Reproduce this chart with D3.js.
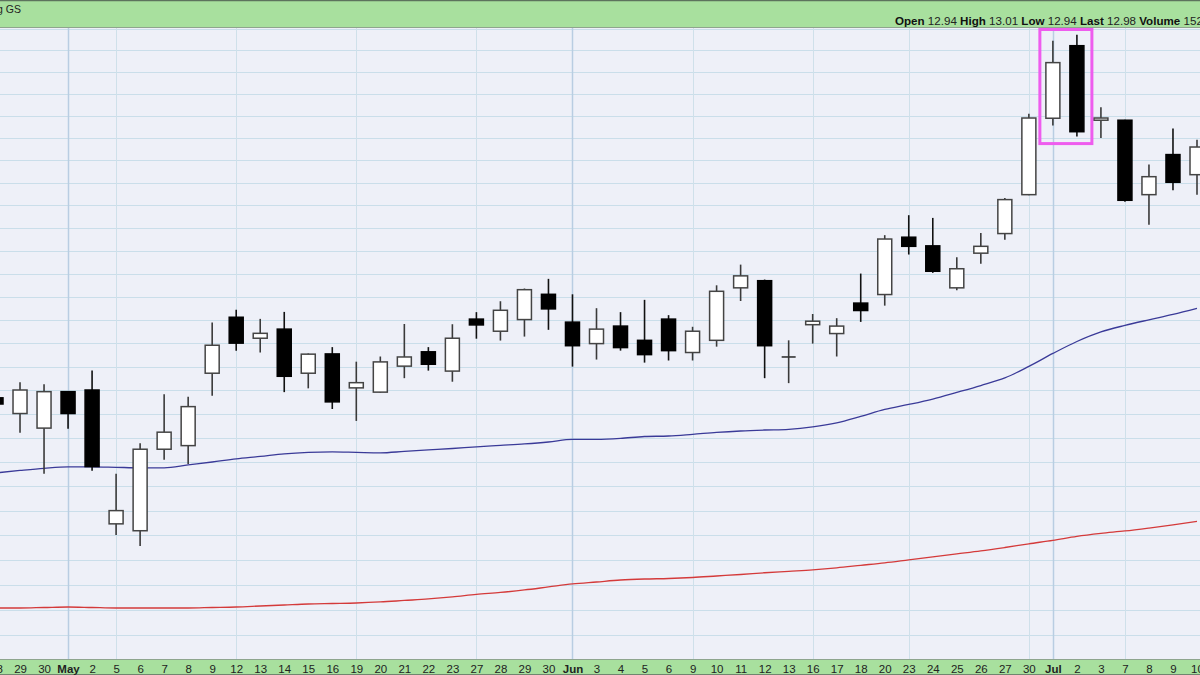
<!DOCTYPE html>
<html><head><meta charset="utf-8">
<script src="https://cdn.jsdelivr.net/npm/d3@7"></script>
<style>body{margin:0;background:#fff;} svg{display:block;font-family:"Liberation Sans",Arial,sans-serif;}</style>
</head><body><svg id="c" width="1200" height="675"></svg>
<script>
// ---- data ----
const dates = ["2025-04-28","2025-04-29","2025-04-30","2025-05-01","2025-05-02",
  "2025-05-05","2025-05-06","2025-05-07","2025-05-08","2025-05-09",
  "2025-05-12","2025-05-13","2025-05-14","2025-05-15","2025-05-16",
  "2025-05-19","2025-05-20","2025-05-21","2025-05-22","2025-05-23",
  "2025-05-27","2025-05-28","2025-05-29","2025-05-30",
  "2025-06-02","2025-06-03","2025-06-04","2025-06-05","2025-06-06",
  "2025-06-09","2025-06-10","2025-06-11","2025-06-12","2025-06-13",
  "2025-06-16","2025-06-17","2025-06-18","2025-06-20",
  "2025-06-23","2025-06-24","2025-06-25","2025-06-26","2025-06-27",
  "2025-06-30","2025-07-01","2025-07-02","2025-07-03",
  "2025-07-07","2025-07-08","2025-07-09","2025-07-10"];
const open  = [15.968,15.902,15.841,15.994,16.001,15.446,15.418,15.753,15.768,16.072,
  16.311,16.221,16.260,16.072,16.154,16.010,15.992,16.102,16.163,16.081,
  16.303,16.251,16.301,16.410,16.290,16.198,16.273,16.212,16.303,16.160,
  16.212,16.438,16.469,16.141,16.279,16.241,16.372,16.409,16.659,16.621,
  16.438,16.589,16.675,16.847,17.190,17.522,17.181,17.181,16.847,17.026,16.936];
const high  = [15.976,16.034,16.025,15.997,16.083,15.651,15.778,15.983,15.973,16.288,
  16.343,16.304,16.334,16.156,16.183,16.121,16.143,16.282,16.183,16.281,
  16.333,16.380,16.435,16.477,16.410,16.350,16.333,16.386,16.320,16.270,
  16.449,16.539,16.474,16.212,16.325,16.307,16.500,16.668,16.756,16.744,
  16.571,16.678,16.832,17.210,17.545,17.573,17.240,17.183,16.981,17.143,17.093];
const low   = [15.934,15.822,15.651,15.838,15.664,15.401,15.356,15.709,15.692,15.977,
  16.168,16.160,15.992,16.008,15.921,15.871,15.990,16.051,16.083,16.036,
  16.219,16.211,16.228,16.257,16.100,16.130,16.168,16.117,16.126,16.126,
  16.185,16.381,16.051,16.030,16.198,16.143,16.291,16.361,16.583,16.503,
  16.428,16.543,16.648,16.844,17.157,17.107,17.101,16.815,16.714,16.867,16.847];
const close = [15.942,16.001,15.994,15.902,15.681,15.500,15.753,15.824,15.931,16.191,
  16.200,16.242,16.059,16.153,15.951,16.032,16.120,16.141,16.110,16.221,
  16.278,16.341,16.430,16.347,16.189,16.260,16.181,16.151,16.168,16.251,
  16.423,16.490,16.189,16.141,16.294,16.273,16.340,16.651,16.619,16.510,
  16.521,16.619,16.825,17.191,17.444,17.129,17.191,16.822,16.927,16.902,17.060];
const sma50 = [15.655,15.665,15.674,15.680,15.680,15.678,15.676,15.676,15.688,15.700,
  15.713,15.723,15.734,15.740,15.742,15.740,15.738,15.744,15.750,15.756,
  15.763,15.769,15.775,15.783,15.794,15.794,15.798,15.806,15.808,15.815,
  15.823,15.829,15.833,15.836,15.846,15.863,15.890,15.919,15.940,15.963,
  15.991,16.020,16.052,16.101,16.156,16.207,16.248,16.276,16.300,16.323,16.349];
const sma200 = [15.107,15.107,15.109,15.111,15.109,15.107,15.107,15.107,15.107,15.109,
  15.111,15.115,15.119,15.123,15.125,15.127,15.131,15.137,15.143,15.151,
  15.161,15.169,15.179,15.191,15.203,15.211,15.219,15.223,15.225,15.229,
  15.235,15.241,15.248,15.254,15.260,15.268,15.278,15.288,15.300,15.312,
  15.324,15.336,15.350,15.365,15.379,15.395,15.407,15.417,15.429,15.442,15.456];
const headerTitle = "g GS";
const quoteLabels = ["Open","High","Low","Last","Volume"];
const quoteValues = ["12.94","13.01","12.94","12.98","152.5M"];
const highlightDates = ["2025-07-01","2025-07-02"];

// ---- layout ----
const W = 1200, H = 675;
const plotTop = 28, plotBottom = 659;
const svg = d3.select("#c");
const parse = d3.timeParse("%Y-%m-%d");
const pd = dates.map(parse);

const x = d3.scalePoint().domain(dates).range([-4, 1197]);
const y = d3.scaleLog().domain([14.913, 17.604]).range([657, plotTop]);

svg.append("defs").append("clipPath").attr("id","plot")
  .append("rect").attr("x",0).attr("y",plotTop).attr("width",W).attr("height",plotBottom-plotTop);

svg.append("rect").attr("x",0).attr("y",plotTop).attr("width",W).attr("height",plotBottom-plotTop).attr("fill","#eef0f8");

const g = svg.append("g").attr("clip-path","url(#plot)");

// horizontal grid
const hTicks = d3.range(149, 177).map(d => d/10);
g.selectAll("line.h").data(hTicks).join("line")
  .attr("x1",0).attr("x2",W)
  .attr("y1",d=>Math.round(y(d))+0.5).attr("y2",d=>Math.round(y(d))+0.5)
  .attr("stroke","#cadeea").attr("stroke-width",1);

// vertical grid: first trading day of each week / month
const vIdx = [];
pd.forEach((d,i)=>{
  if(i===0) return;
  const p = pd[i-1];
  const newWeek = d.getDay() < p.getDay() || (d - p) > 4*864e5;
  const newMonth = d.getMonth() !== p.getMonth();
  if(newWeek || newMonth) vIdx.push({i, month:newMonth});
});
g.selectAll("line.v").data(vIdx).join("line")
  .attr("x1",d=>Math.round(x(dates[d.i]))+0.5).attr("x2",d=>Math.round(x(dates[d.i]))+0.5)
  .attr("y1",plotTop).attr("y2",plotBottom)
  .attr("stroke",d=>d.month?"#b9cde2":"#cfe0ea").attr("stroke-width",d=>d.month?1.5:1);

// moving averages
const line = d3.line().x((d,i)=>x(dates[i])).y(d=>y(d)).curve(d3.curveMonotoneX);
g.append("path").attr("d",line(sma200)).attr("fill","none").attr("stroke","#d43a3a").attr("stroke-width",1.3);
g.append("path").attr("d",line(sma50)).attr("fill","none").attr("stroke","#3a3a98").attr("stroke-width",1.3);

// candles
const bw = 14;
const candles = dates.map((d,i)=>({d, o:open[i], h:high[i], l:low[i], c:close[i]}));
const cg = g.selectAll("g.candle").data(candles).join("g");
cg.append("line")
  .attr("x1",d=>x(d.d)).attr("x2",d=>x(d.d))
  .attr("y1",d=>y(d.h)).attr("y2",d=>y(d.l))
  .attr("stroke",d=>d.c<d.o?"#111":"#3a3a3a").attr("stroke-width",1.6);
cg.filter(d=>d.c!==d.o).append("rect")
  .attr("x",d=>x(d.d)-bw/2).attr("width",bw)
  .attr("y",d=>y(Math.max(d.o,d.c)))
  .attr("height",d=>Math.max(1,y(Math.min(d.o,d.c))-y(Math.max(d.o,d.c))))
  .attr("fill",d=>d.c<d.o?"#000":"#fff")
  .attr("stroke",d=>d.c<d.o?"#000":"#444").attr("stroke-width",1.5);
cg.filter(d=>d.c===d.o).append("line")
  .attr("x1",d=>x(d.d)-bw/2).attr("x2",d=>x(d.d)+bw/2)
  .attr("y1",d=>y(d.o)).attr("y2",d=>y(d.o))
  .attr("stroke","#333").attr("stroke-width",1.6);

// highlight box
const hl = candles.filter(c=>highlightDates.includes(c.d));
const hx0 = x(highlightDates[0]) - 13, hx1 = x(highlightDates[highlightDates.length-1]) + 15;
const hyB = y(d3.min(hl, c=>c.l)) + 7;
svg.append("rect").attr("x",hx0).attr("y",plotTop+1.5).attr("width",hx1-hx0).attr("height",hyB-plotTop-1.5)
  .attr("fill","none").attr("stroke","#ee5cee").attr("stroke-width",3);

// header bar
svg.append("rect").attr("x",0).attr("y",0).attr("width",W).attr("height",plotTop).attr("fill","#a8e09e");
svg.append("line").attr("x1",0).attr("x2",W).attr("y1",0.5).attr("y2",0.5).attr("stroke","#5d735d").attr("stroke-width",1.5);
svg.append("line").attr("x1",0).attr("x2",W).attr("y1",plotTop-0.5).attr("y2",plotTop-0.5).attr("stroke","#8ea58e").attr("stroke-width",1.2);
svg.append("text").attr("x",-3).attr("y",13).attr("font-size",10.5).attr("fill","#222").text(headerTitle);
const qt = svg.append("text").attr("x",895).attr("y",25).attr("font-size",11.6).attr("fill","#111");
quoteLabels.forEach((lab,i)=>{
  qt.append("tspan").attr("font-weight","bold").text((i?" ":"")+lab+" ");
  qt.append("tspan").attr("fill","#222").text(quoteValues[i]);
});

// bottom axis bar
svg.append("rect").attr("x",0).attr("y",plotBottom).attr("width",W).attr("height",H-plotBottom).attr("fill","#a8e09e");
svg.append("line").attr("x1",0).attr("x2",W).attr("y1",plotBottom+0.5).attr("y2",plotBottom+0.5).attr("stroke","#8ea58e").attr("stroke-width",1.2);
svg.append("line").attr("x1",0).attr("x2",W).attr("y1",H-0.5).attr("y2",H-0.5).attr("stroke","#6f876f").attr("stroke-width",1.2);

const isMonth = (d,i) => i>0 && parse(d).getMonth()!==parse(dates[i-1]).getMonth();
const axis = d3.axisBottom(x).tickSize(0).tickFormat((d,i)=>{
  const dt = parse(d);
  return isMonth(d,i) ? d3.timeFormat("%b")(dt) : String(dt.getDate());
});
const ax = svg.append("g").attr("transform",`translate(0,${plotBottom+1})`).call(axis);
ax.select(".domain").remove();
ax.selectAll("text").attr("font-size",11.5).attr("fill","#222")
  .attr("font-family","'Liberation Sans',Arial,sans-serif")
  .attr("font-weight",(d,i)=> isMonth(d,i) ? "bold":"normal")
  .attr("dy","0.9em");
</script></body></html>
